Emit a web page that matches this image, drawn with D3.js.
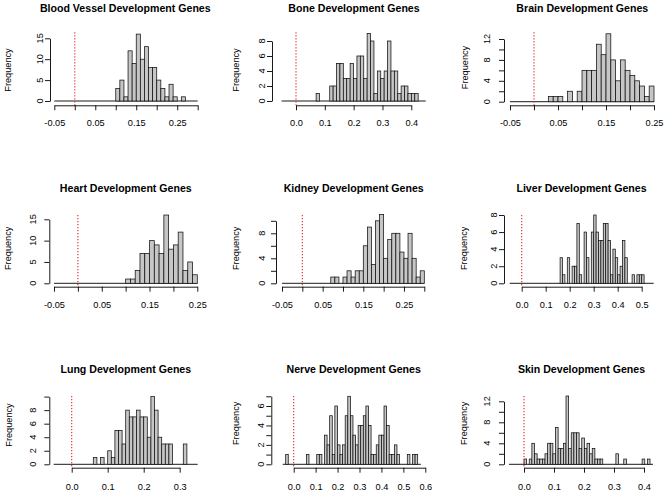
<!DOCTYPE html>
<html><head><meta charset="utf-8">
<script src="https://cdn.jsdelivr.net/npm/d3@7"></script>
<style>
body{margin:0;background:#fff}
svg{display:block}
text{font-family:"Liberation Sans",Arial,Helvetica,sans-serif;fill:#000}
</style></head><body>
<svg id="chart" width="667" height="493"></svg>
<script>
// ---------------- DATA ----------------
const titles = ["Blood Vessel Development Genes","Bone Development Genes","Brain Development Genes",
  "Heart Development Genes","Kidney Development Genes","Liver Development Genes",
  "Lung Development Genes","Nerve Development Genes","Skin Development Genes"];
const yAxisTitle = "Frequency";

// histogram bins: start of first bin and bin width per panel
const binStart = [0.10, 0.0698, 0.03, 0.10, 0.07, 0.16, 0.06, -0.0366, 0.0];
const binWidth = [0.01, 0.0118, 0.01, 0.01, 0.01, 0.01, 0.01, 0.0118, 0.00875];

const bloodCounts  = [3,5,1,12,9,16,10,13,8,8,5,3,1,4,1,0,1];
const boneCounts   = [1,0,0,0,2,2,5,5,3,3,5,3,6,6,3,9,8,1,4,3,4,8,4,4,1,2,2,1,1,1];
const brainCounts  = [1,1,1,0,2,0,2,6,6,6,11,9,13,8,4,8,6,5,4,3,1,3];
const heartCounts  = [1,1,3,7,7,10,9,7,16,8,9,12,3,5,2];
const kidneyCounts = [1,1,0,1,2,1,2,2,6,9,3,10,11,4,7,8,8,5,4,8,4,1,2];
const liverCounts  = [3,1,0,3,0,2,2,7,1,0,6,3,0,6,8,6,5,5,7,7,5,1,4,3,1,2,5,3,0,0,1,0,1,1,1];
const lungCounts   = [1,0,1,0,2,1,5,5,3,8,7,7,8,7,7,4,10,8,4,3,3,3,0,0,0,3];
const nerveCounts  = [1,0,0,0,0,0,0,0,1,0,0,0,1,1,0,3,2,5,1,6,2,1,2,5,7,5,3,2,4,4,5,6,4,1,1,2,3,3,6,4,1,1,2,1,0,0,0,1,0,1,1];
const skinCounts   = [1,0,1,4,2,1,1,1,2,4,4,2,7,3,3,4,13,3,6,6,6,3,5,3,4,2,3,1,1,1,0,0,0,0,0,2,0,0,1,0,0,0,0,0,0,1,0,1];
const countsList = [bloodCounts,boneCounts,brainCounts,heartCounts,kidneyCounts,liverCounts,lungCounts,nerveCounts,skinCounts];

// zero-count baseline extent (range of empty bins)
const baselineExtent = [[-0.05,0.3],[-0.05,0.45],[-0.05,0.25],[-0.05,0.25],[-0.05,0.3],[-0.05,0.55],[-0.05,0.35],[-0.05,0.58],[-0.05,0.43]];
const referenceValue = 0;

// axis ticks and tick labels
const xTickValues = [
  [-0.05,0,0.05,0.1,0.15,0.2,0.25,0.3],
  [0,0.1,0.2,0.3,0.4],
  [-0.05,0,0.05,0.1,0.15,0.2,0.25],
  [-0.05,0,0.05,0.1,0.15,0.2,0.25],
  [-0.05,0,0.05,0.1,0.15,0.2,0.25,0.3],
  [0,0.1,0.2,0.3,0.4,0.5],
  [0,0.1,0.2,0.3],
  [0,0.1,0.2,0.3,0.4,0.5,0.6],
  [0,0.1,0.2,0.3,0.4]];
const xLabelValues = [
  [-0.05,0.05,0.15,0.25],
  [0,0.1,0.2,0.3,0.4],
  [-0.05,0.05,0.15,0.25],
  [-0.05,0.05,0.15,0.25],
  [-0.05,0.05,0.15,0.25],
  [0,0.1,0.2,0.3,0.4,0.5],
  [0,0.1,0.2,0.3],
  [0,0.1,0.2,0.3,0.4,0.5,0.6],
  [0,0.1,0.2,0.3,0.4]];
const xLabelDecimals = [2,1,2,2,2,1,1,1,1];
const yTickValues = [
  [0,5,10,15],[0,2,4,6,8],[0,2,4,6,8,10,12],
  [0,5,10,15],[0,2,4,6,8,10],[0,2,4,6,8],
  [0,2,4,6,8,10],[0,1,2,3,4,5,6,7],[0,2,4,6,8,10,12]];
const yLabelValues = [
  [0,5,10,15],[0,2,4,6,8],[0,4,8,12],
  [0,5,10,15],[0,4,8],[0,2,4,6,8],
  [0,2,4,6,8],[0,2,4,6],[0,4,8,12]];

// ---------------- LAYOUT ----------------
const layout = [
 {xr:[54.3,197.7], yr:[101,38.3],   axisX:50,    axisY:105.3, labY:126,   tx:125.3, ty:11.6,  fx:7.3,   fy:70,    yOff:10.7, redTop:32.3},
 {xr:[296,411.3],  yr:[101,41],     axisX:272,   axisY:105.3, labY:126,   tx:354,   ty:11.6,  fx:235.3, fy:70,    yOff:10.7, redTop:32.3},
 {xr:[510,654],    yr:[101.7,39],   axisX:504,   axisY:105.3, labY:126,   tx:582.3, ty:11.6,  fx:464.3, fy:67.5,  yOff:17,   redTop:32.3},
 {xr:[54,197.3],   yr:[283.3,219.3],axisX:49.3,  axisY:286.7, labY:307.5, tx:125.8, ty:191.6, fx:7.8,   fy:248.3, yOff:17,   redTop:215},
 {xr:[282,424.3],  yr:[283.3,220.8],axisX:276,   axisY:286.7, labY:307.5, tx:353.7, ty:191.6, fx:235.3, fy:248.3, yOff:14,   redTop:215},
 {xr:[521.7,641.7],yr:[283.3,215],  axisX:504,   axisY:286.7, labY:307.5, tx:581.5, ty:191.6, fx:464,   fy:248.3, yOff:10,   redTop:215},
 {xr:[71.7,179.7], yr:[464.3,396.6],axisX:49.3,  axisY:467.7, labY:490,   tx:125.8, ty:373.3, fx:8.5,   fy:425,   yOff:17,   redTop:396},
 {xr:[293.7,425.3],yr:[464.3,396.3],axisX:271.3, axisY:467.7, labY:490,   tx:353.7, ty:373.3, fx:235.3, fy:423.3, yOff:10.5, redTop:396},
 {xr:[524,644],    yr:[464.3,401.3],axisX:504,   axisY:467.7, labY:490,   tx:581.5, ty:373.3, fx:464,   fy:423.3, yOff:17.5, redTop:396}
];

const svg = d3.select("#chart");
const near = (a,b) => Math.abs(a-b) < 1e-9;

layout.forEach((L, i) => {
  const g = svg.append("g");
  const xt = xTickValues[i], yt = yTickValues[i];
  const x = d3.scaleLinear().domain([xt[0], xt[xt.length-1]]).range(L.xr);
  const y = d3.scaleLinear().domain([yt[0], yt[yt.length-1]]).range(L.yr);
  const counts = countsList[i];
  const bins = counts.map((c,k) => ({x0: binStart[i] + k*binWidth[i], x1: binStart[i] + (k+1)*binWidth[i], c}));

  // baseline of empty bins
  g.append("line")
    .attr("x1", x(baselineExtent[i][0])).attr("x2", x(baselineExtent[i][1]))
    .attr("y1", y(0)).attr("y2", y(0))
    .attr("stroke","#000").attr("stroke-width",0.9);

  // bars
  g.selectAll("rect.bar").data(bins.filter(b => b.c > 0)).join("rect")
    .attr("class","bar")
    .attr("x", b => x(b.x0)).attr("width", b => x(b.x1) - x(b.x0))
    .attr("y", b => y(b.c)).attr("height", b => y(0) - y(b.c))
    .attr("fill","#c6c6c6").attr("stroke","#111").attr("stroke-width",0.75);

  // red dotted reference line
  g.append("line")
    .attr("x1", x(referenceValue)).attr("x2", x(referenceValue))
    .attr("y1", L.redTop).attr("y2", L.axisY)
    .attr("stroke","#e3242b").attr("stroke-width",1.1)
    .attr("stroke-dasharray","1.3,1.7");

  // x axis
  const xAxis = d3.axisBottom(x).tickValues(xt).tickSize(5).tickSizeOuter(0)
    .tickPadding(L.labY - L.axisY - 5 - 6.5)
    .tickFormat(v => xLabelValues[i].some(l => near(l, v)) ? v.toFixed(xLabelDecimals[i]) : "");
  const gx = g.append("g").attr("transform", `translate(0,${L.axisY})`).call(xAxis);
  gx.attr("font-family", null).attr("font-size", null);
  gx.selectAll("path,line").attr("stroke","#000").attr("stroke-width",0.9);
  gx.selectAll("text").attr("font-size","9.2px").attr("dy","0.71em");

  // y axis
  const yAxis = d3.axisLeft(y).tickValues(yt).tickSize(5).tickSizeOuter(0).tickFormat("");
  const gy = g.append("g").attr("transform", `translate(${L.axisX},0)`).call(yAxis);
  gy.selectAll("path,line").attr("stroke","#000").attr("stroke-width",0.9);

  // rotated y tick labels
  g.selectAll("text.ylab").data(yLabelValues[i]).join("text")
    .attr("class","ylab")
    .attr("transform", v => `translate(${L.axisX - L.yOff},${y(v)}) rotate(-90)`)
    .attr("text-anchor","middle").attr("dy","0.35em")
    .attr("font-size","9.2px")
    .text(v => String(v));

  // y axis title
  g.append("text")
    .attr("transform", `translate(${L.fx},${L.fy}) rotate(-90)`)
    .attr("text-anchor","middle").attr("dy","0.35em")
    .attr("font-size","9.2px")
    .text(yAxisTitle);

  // panel title
  g.append("text")
    .attr("x", L.tx).attr("y", L.ty)
    .attr("text-anchor","middle")
    .attr("font-size","10.6px").attr("font-weight","bold")
    .text(titles[i]);
});
</script>
</body></html>
